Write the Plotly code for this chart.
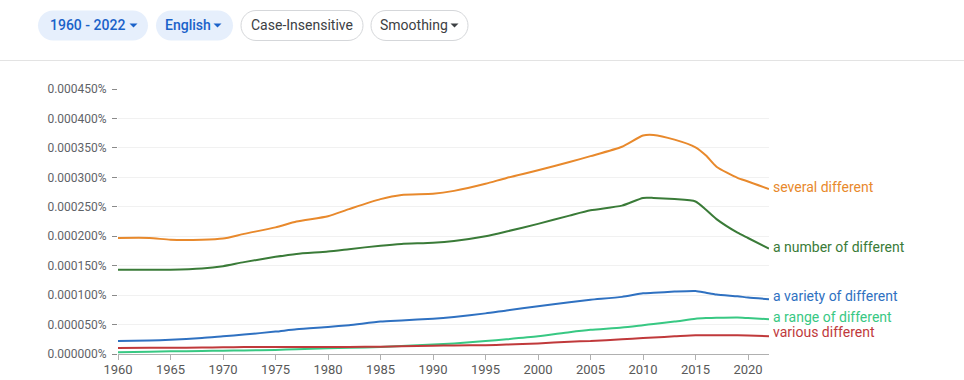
import numpy as np
import plotly.graph_objects as go

# ---- data (values in units of 1e-6 percent) ----
years = [1960, 1963, 1965, 1968, 1970, 1972, 1975, 1977, 1980, 1982, 1985, 1987,
         1990, 1992, 1995, 1997, 2000, 2003, 2005, 2008, 2010, 2011, 2013, 2015,
         2016, 2017, 2019, 2020, 2022]

several_different = [197, 197, 194, 194, 196, 204, 215, 225, 234, 246, 263, 270,
                     272, 277, 289, 299, 312, 326, 336, 352, 371, 372, 364, 351,
                     337, 318, 299, 293, 280]
a_number_of_different = [143, 143, 143, 145, 149, 156, 165, 170, 174, 178, 184, 187,
                         189, 192, 200, 208, 221, 235, 244, 252, 265, 265, 263, 259,
                         245, 229, 206, 197, 179]
a_variety_of_different = [22, 23, 24, 27, 30, 33, 38, 42, 46, 49, 55, 57,
                          60, 63, 69, 74, 81, 88, 92, 97, 103, 104, 106, 107,
                          104, 101, 98, 96, 93]
a_range_of_different = [3, 4, 4.5, 5, 5.7, 6, 7, 8, 9.6, 10.5, 12, 13.5,
                        16, 18, 22, 25, 30, 37, 41, 45, 49, 51, 55, 60,
                        61, 61.5, 62, 61, 59]
various_different = [10, 10.5, 10.5, 11, 11.3, 12, 12, 12, 12, 12, 12.5, 13,
                     14, 14.5, 15, 16, 18, 21, 22, 25, 27, 28, 30, 32,
                     32, 32, 32, 31.5, 30]

series_names = ["several different", "a number of different", "a variety of different",
                "a range of different", "various different"]
series_values = [several_different, a_number_of_different, a_variety_of_different,
                 a_range_of_different, various_different]
series_colors = ["#e8892c", "#3a7b38", "#2f71c1", "#38c883", "#c0393b"]
label_yshift = [2, 2, 3, 2, 4]

y_ticks = [0, 50, 100, 150, 200, 250, 300, 350, 400, 450]
x_ticks = [1960, 1965, 1970, 1975, 1980, 1985, 1990, 1995, 2000, 2005, 2010, 2015, 2020]

SCALE = 1e-6

# ---- layout geometry ----
W, H = 964, 380
L, R, T, B = 118, 195, 89, 26
PW, PH = W - L - R, H - T - B


def px(x):
    return (x - L) / PW


def py(y):
    return (H - B - y) / PH


fig = go.Figure()
for name, vals, col in zip(series_names, series_values, series_colors):
    fig.add_trace(go.Scatter(
        x=years, y=np.array(vals) * SCALE, mode="lines", name=name,
        line=dict(color=col, width=2, shape="spline", smoothing=0.6),
        hoverinfo="skip", showlegend=False,
    ))

annotations = []
for name, vals, col, ys in zip(series_names, series_values, series_colors, label_yshift):
    annotations.append(dict(
        x=years[-1], y=vals[-1] * SCALE, xref="x", yref="y", text=name,
        xanchor="left", yanchor="middle", xshift=2, yshift=ys, showarrow=False,
        font=dict(family="Roboto", size=14, color=col),
    ))


def pill(x0, x1, y0, y1, fill, line_col):
    r = (y1 - y0) / 2
    k = 0.552 * r
    path = (f"M {px(x0 + r)},{py(y0)} L {px(x1 - r)},{py(y0)} "
            f"C {px(x1 - r + k)},{py(y0)} {px(x1)},{py(y0 + r - k)} {px(x1)},{py(y0 + r)} "
            f"C {px(x1)},{py(y0 + r + k)} {px(x1 - r + k)},{py(y1)} {px(x1 - r)},{py(y1)} "
            f"L {px(x0 + r)},{py(y1)} "
            f"C {px(x0 + r - k)},{py(y1)} {px(x0)},{py(y1 - r + k)} {px(x0)},{py(y1 - r)} "
            f"C {px(x0)},{py(y0 + r - k)} {px(x0 + r - k)},{py(y0)} {px(x0 + r)},{py(y0)} Z")
    line = dict(color=line_col, width=1) if line_col else dict(width=0)
    return dict(type="path", xref="paper", yref="paper", path=path,
                fillcolor=fill, line=line, layer="above")


def caret(cx, cy, col):
    path = (f"M {px(cx - 4)},{py(cy - 2)} L {px(cx + 4)},{py(cy - 2)} "
            f"L {px(cx)},{py(cy + 2)} Z")
    return dict(type="path", xref="paper", yref="paper", path=path,
                fillcolor=col, line=dict(width=0), layer="above")


blue_txt = "#1a62c9"
gray_txt = "#3c4043"
shapes = [
    pill(38, 148, 10.5, 40.5, "#e6effc", None),
    pill(156, 233, 10.5, 40.5, "#e6effc", None),
    pill(241, 363, 10.5, 40.5, "#ffffff", "#d5d7da"),
    pill(371, 468, 10.5, 40.5, "#ffffff", "#d5d7da"),
    caret(133.5, 25.5, blue_txt),
    caret(217.5, 25.5, blue_txt),
    caret(454.5, 25.5, gray_txt),
    dict(type="line", xref="paper", yref="paper", x0=px(0), x1=px(W), y0=py(60.5), y1=py(60.5),
         line=dict(color="#e3e3e3", width=1)),
]

header_texts = [
    ("1960 - 2022", 87, blue_txt, 500),
    ("English", 187.5, blue_txt, 500),
    ("Case-Insensitive", 302, gray_txt, 400),
    ("Smoothing", 413.5, gray_txt, 400),
]
for txt, cx, col, wt in header_texts:
    annotations.append(dict(
        x=px(cx), y=py(25.5), xref="paper", yref="paper", text=txt, showarrow=False,
        xanchor="center", yanchor="middle",
        font=dict(family="Roboto", size=14, color=col, weight=wt),
    ))

fig.update_layout(
    width=W, height=H, margin=dict(l=L, r=R, t=T, b=B, pad=0, autoexpand=False),
    paper_bgcolor="white", plot_bgcolor="white",
    font=dict(family="Roboto", size=12, color="#5f6368"),
    shapes=shapes, annotations=annotations,
    xaxis=dict(
        range=[1960, 2022], tickvals=x_ticks, ticktext=[str(v) for v in x_ticks],
        showgrid=False, zeroline=False, showline=True, linecolor="#b0b0b0", linewidth=1,
        ticks="outside", ticklen=5, tickcolor="#b0b0b0", automargin=False,
        ticklabelstandoff=-2,
        tickfont=dict(family="Roboto", size=13, color="#595959"),
    ),
    yaxis=dict(
        range=[0, 450 * SCALE], tickvals=[v * SCALE for v in y_ticks],
        ticktext=[f"{v * SCALE:.6f}%" for v in y_ticks],
        showgrid=True, gridcolor="#f1f1f1", gridwidth=1, zeroline=False, showline=False,
        ticks="outside", ticklen=5, tickcolor="#8a8a8a", ticklabelstandoff=3, automargin=False,
        tickfont=dict(family="Roboto", size=12, color="#5f6368"),
    ),
)

fig.write_html(
    "out.html",
    config={"displayModeBar": False, "staticPlot": True},
    post_script="document.body.style.margin='0';document.body.style.overflow='hidden';",
)
